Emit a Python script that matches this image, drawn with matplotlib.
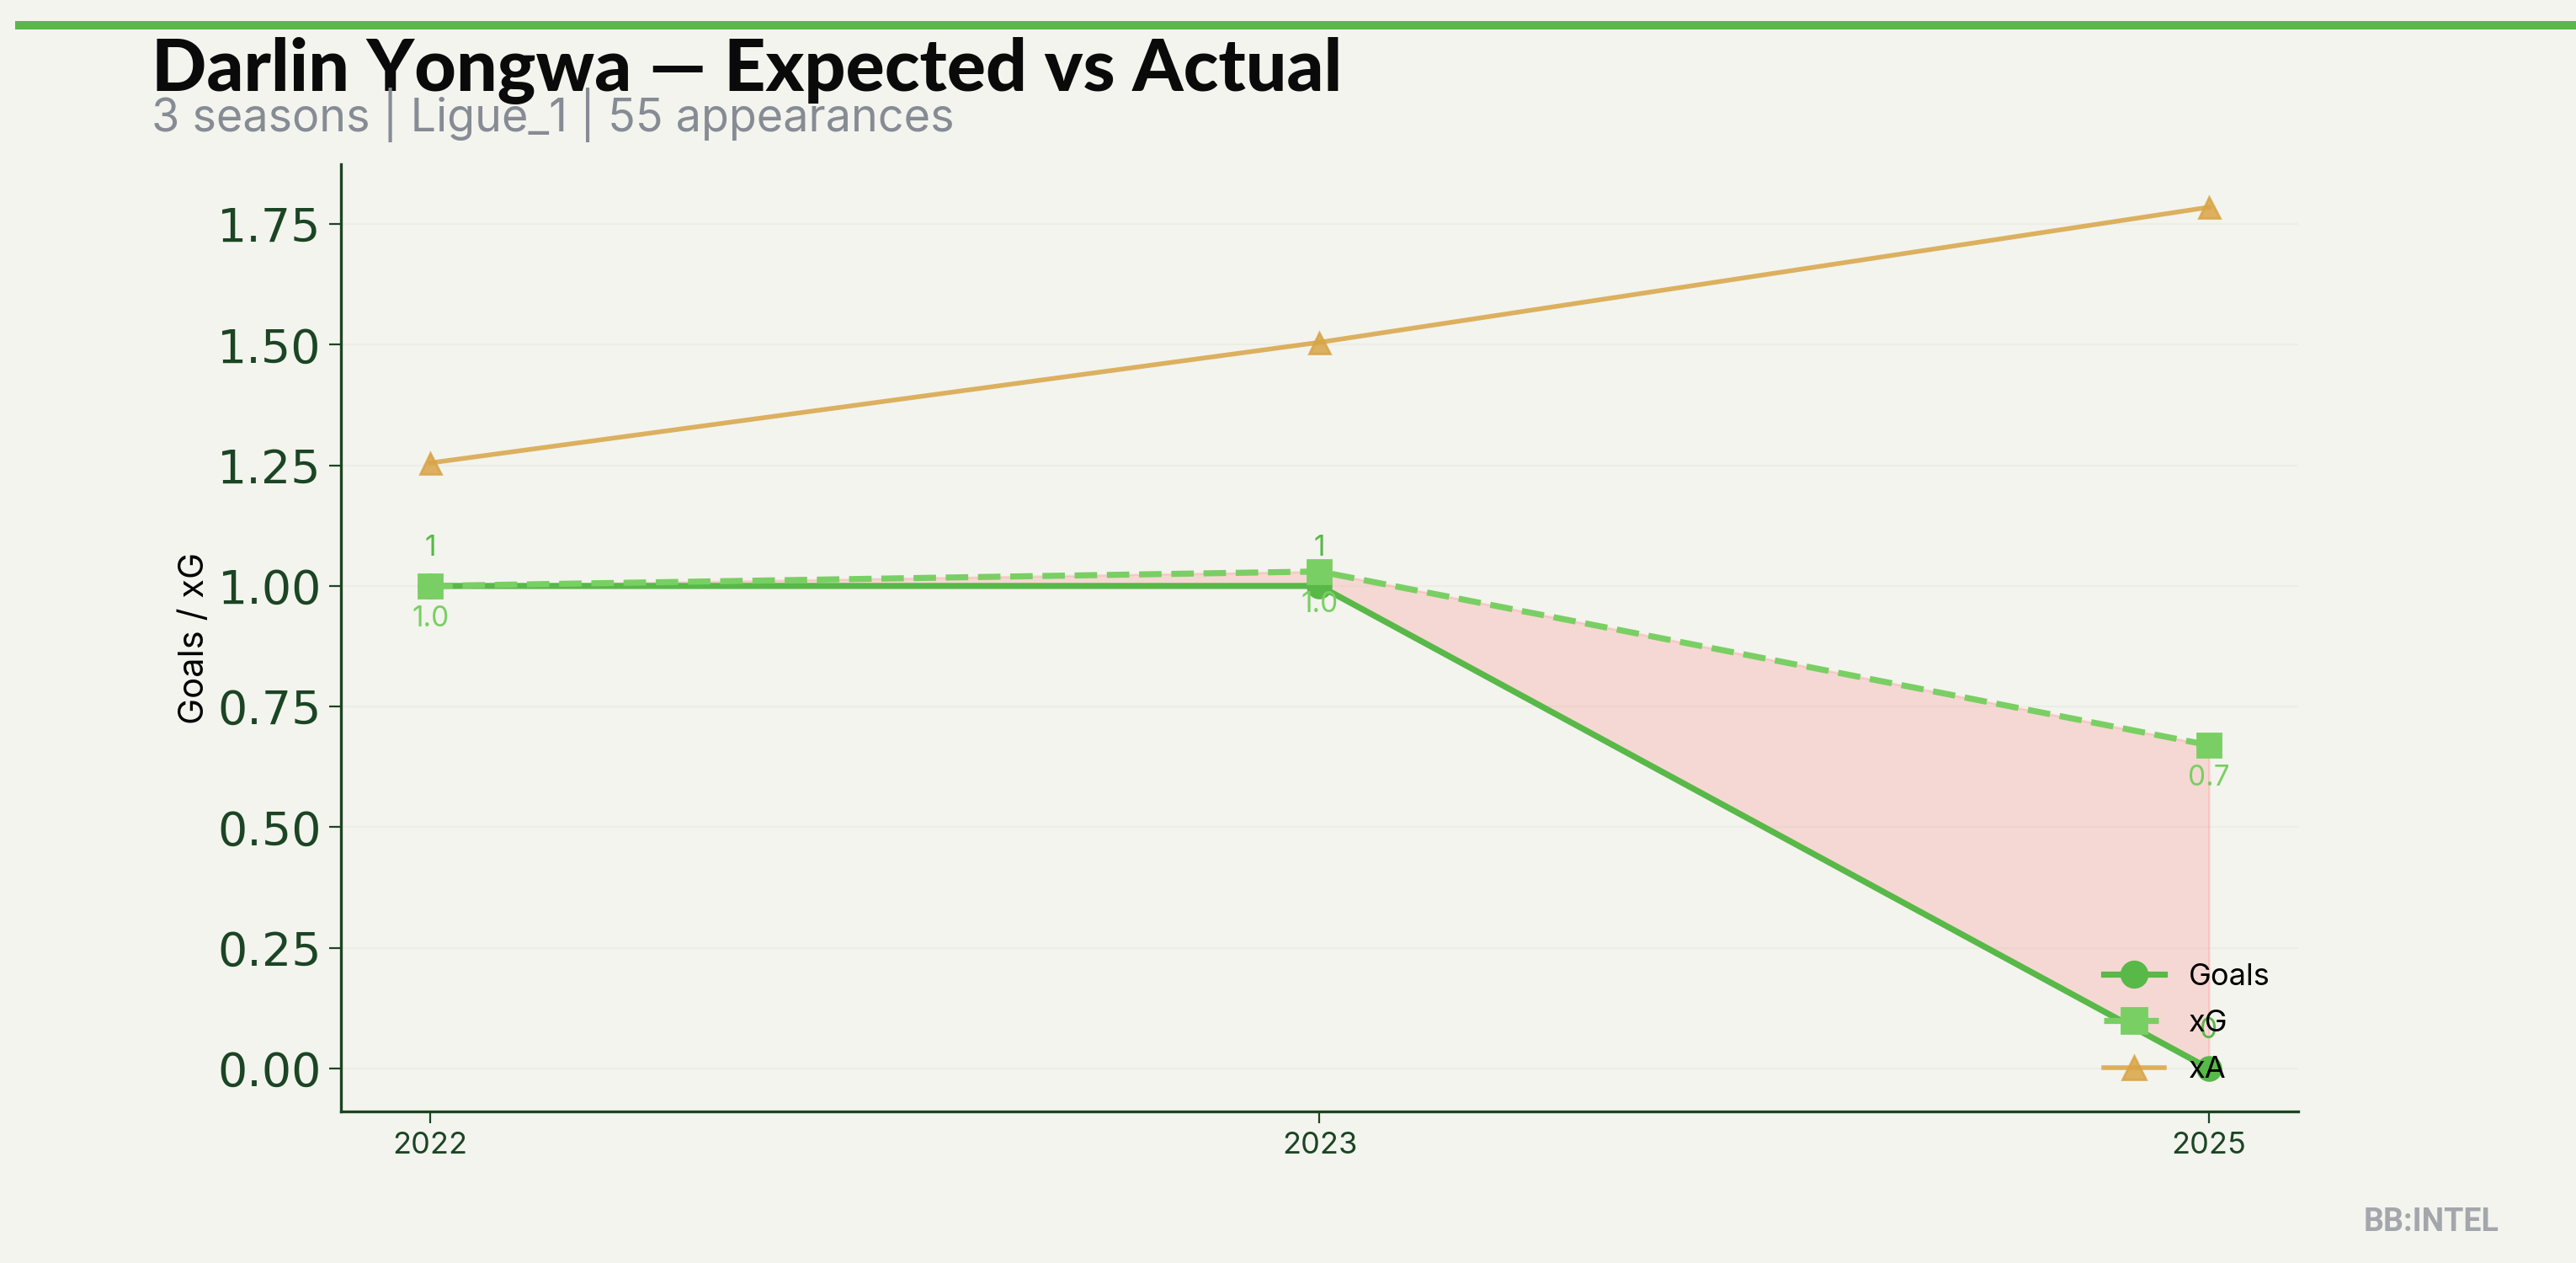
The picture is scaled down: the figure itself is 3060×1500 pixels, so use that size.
import matplotlib
matplotlib.use("Agg")
import matplotlib.pyplot as plt
import numpy as np

# -----------------------------
# Data
# -----------------------------
seasons = ["2022", "2023", "2025"]
goals = [1, 1, 0]
xg = [1.00, 1.03, 0.67]
xa = [1.255, 1.505, 1.785]
goal_labels = ["1", "1", "0"]
xg_labels = ["1.0", "1.0", "0.7"]

title = "Darlin Yongwa — Expected vs Actual"
subtitle = "3 seasons | Ligue_1 | 55 appearances"

BG = "#f3f4ee"
GREEN = "#58b848"
GREEN_LIGHT = "#79cf63"
GOLD = "#d9a446"
DARK = "#1b4524"

plt.rcParams["font.family"] = ["Inter", "DejaVu Sans"]

fig = plt.figure(figsize=(15.3, 7.5), dpi=200, facecolor=BG)
ax = fig.add_axes([0.1325, 0.12, 0.7595, 0.75])
ax.set_facecolor(BG)

x = np.arange(len(seasons))

ax.fill_between(x, goals, xg, color="#ff6b6b", alpha=0.2, zorder=1)
ax.plot(x, goals, color=GREEN, lw=2.6, marker="o", ms=10, label="Goals", zorder=3)
ax.plot(x, xg, color=GREEN_LIGHT, lw=2.6, ls="--", marker="s", ms=10, label="xG", zorder=4)
ax.plot(x, xa, color=GOLD, lw=2.0, marker="^", ms=9, alpha=0.85, label="xA", zorder=2)

for xi, g, lab in zip(x, goals, goal_labels):
    ax.annotate(lab, (xi, g), xytext=(0, 16), textcoords="offset points",
                ha="center", va="center", fontsize=12, color=GREEN)
for xi, v, lab in zip(x, xg, xg_labels):
    ax.annotate(lab, (xi, v), xytext=(0, -14), textcoords="offset points",
                ha="center", va="center", fontsize=12, color=GREEN_LIGHT)

ax.set_xticks(x)
ax.set_xticklabels(seasons)
ax.set_yticks([0, 0.25, 0.5, 0.75, 1.0, 1.25, 1.5, 1.75])
ax.yaxis.set_major_formatter(matplotlib.ticker.FormatStrFormatter("%.2f"))
for t in ax.get_yticklabels():
    t.set_fontfamily("DejaVu Sans")
    t.set_fontsize(20)
for t in ax.get_xticklabels():
    t.set_fontsize(13)
ax.tick_params(colors=DARK, length=5, width=0.8)
ax.set_ylabel("Goals / xG", fontsize=15, labelpad=3)

ax.grid(axis="y", color="#ecede6", lw=0.8)
ax.set_axisbelow(True)
for s in ["top", "right"]:
    ax.spines[s].set_visible(False)
for s in ["left", "bottom"]:
    ax.spines[s].set_color(DARK)
    ax.spines[s].set_linewidth(1.2)

ax.legend(loc="lower right", frameon=False, fontsize=13, labelspacing=0.62, markerscale=1.1)

# header
fig.add_artist(plt.Line2D([0.0075, 1.0], [0.9797, 0.9797], color=GREEN, lw=3.6))
fig.text(0.0588, 0.928, title, fontsize=31, fontweight="black", family=["Lato", "DejaVu Sans"],
         color="#0a0a0a", ha="left", va="baseline")
fig.text(0.0588, 0.896, subtitle, fontsize=19.4, color="#868b94", ha="left", va="baseline")
fig.text(0.970, 0.025, "BB:INTEL", fontsize=13.5, fontweight="bold", family=["Roboto", "DejaVu Sans"],
         color="#a3a6ab", ha="right", va="baseline")

fig.savefig("out.png", dpi=200, facecolor=BG)
